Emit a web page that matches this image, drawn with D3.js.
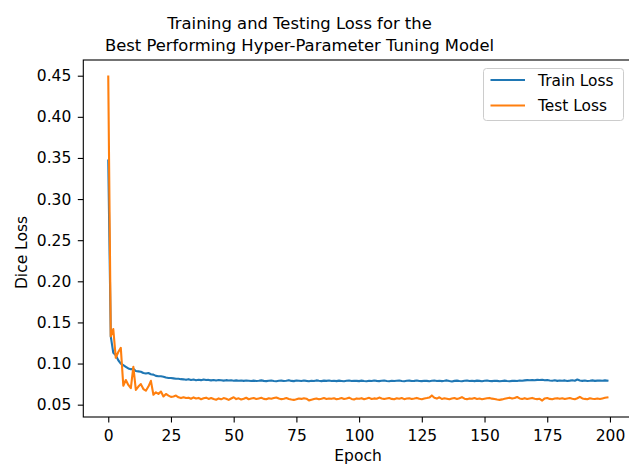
<!DOCTYPE html>
<html>
<head>
<meta charset="utf-8">
<script src="https://cdn.jsdelivr.net/npm/d3@7"></script>
<style>
    body { margin: 0; background: #fff; }
    svg { display: block; font-family: "DejaVu Sans", sans-serif; }
</style>
</head>
<body>
<div id="chart"></div>
<script>
const width = 629;
const height = 466;

// Loss values per epoch (0..199)
const trainLoss = [
    0.3470, 0.1330, 0.1130, 0.1100, 0.1040, 0.1000, 0.0980, 0.0960, 0.0940, 0.0930,
    0.0935, 0.0910, 0.0905, 0.0900, 0.0885, 0.0880, 0.0885, 0.0870, 0.0865, 0.0850,
    0.0845, 0.0845, 0.0840, 0.0830, 0.0825, 0.0825, 0.0820, 0.0815, 0.0815, 0.0810,
    0.0808, 0.0802, 0.0810, 0.0800, 0.0805, 0.0797, 0.0803, 0.0798, 0.0806, 0.0799,
    0.0801, 0.0795, 0.0800, 0.0794, 0.0799, 0.0796, 0.0792, 0.0798, 0.0793, 0.0796,
    0.0791, 0.0795, 0.0790, 0.0794, 0.0789, 0.0793, 0.0790, 0.0787, 0.0792, 0.0788,
    0.0791, 0.0795, 0.0789, 0.0786, 0.0790, 0.0793, 0.0788, 0.0785, 0.0790, 0.0792,
    0.0787, 0.0791, 0.0798, 0.0789, 0.0786, 0.0793, 0.0790, 0.0787, 0.0794, 0.0789,
    0.0785, 0.0791, 0.0788, 0.0795, 0.0790, 0.0786, 0.0792, 0.0789, 0.0793, 0.0787,
    0.0790, 0.0786, 0.0792, 0.0788, 0.0784, 0.0790, 0.0793, 0.0787, 0.0791, 0.0789,
    0.0786, 0.0792, 0.0788, 0.0785, 0.0791, 0.0787, 0.0793, 0.0789, 0.0786, 0.0790,
    0.0794, 0.0788, 0.0785, 0.0791, 0.0787, 0.0790, 0.0793, 0.0788, 0.0784, 0.0790,
    0.0792, 0.0787, 0.0789, 0.0794, 0.0788, 0.0786, 0.0791, 0.0789, 0.0785, 0.0790,
    0.0793, 0.0788, 0.0791, 0.0786, 0.0790, 0.0795, 0.0787, 0.0782, 0.0789, 0.0792,
    0.0788, 0.0785, 0.0791, 0.0794, 0.0787, 0.0790, 0.0786, 0.0792, 0.0789, 0.0785,
    0.0790, 0.0793, 0.0788, 0.0786, 0.0791, 0.0789, 0.0784, 0.0788, 0.0792, 0.0787,
    0.0785, 0.0789, 0.0791, 0.0787, 0.0793, 0.0790, 0.0795, 0.0798, 0.0796, 0.0800,
    0.0797, 0.0801, 0.0799, 0.0803, 0.0796, 0.0799, 0.0794, 0.0791, 0.0796, 0.0789,
    0.0793, 0.0790, 0.0795, 0.0788, 0.0792, 0.0797, 0.0791, 0.0806, 0.0794, 0.0789,
    0.0793, 0.0788, 0.0791, 0.0795, 0.0789, 0.0792, 0.0794, 0.0790, 0.0795, 0.0792
];

const testLoss = [
    0.4490, 0.1330, 0.1420, 0.1070, 0.1140, 0.1190, 0.0730, 0.0800, 0.0740, 0.0700,
    0.0960, 0.0680, 0.0720, 0.0750, 0.0690, 0.0670, 0.0720, 0.0790, 0.0620, 0.0650,
    0.0630, 0.0660, 0.0600, 0.0630, 0.0610, 0.0595, 0.0600, 0.0610, 0.0590, 0.0580,
    0.0590, 0.0580, 0.0585, 0.0572, 0.0588, 0.0575, 0.0582, 0.0566, 0.0578, 0.0585,
    0.0570, 0.0581, 0.0568, 0.0560, 0.0576, 0.0565, 0.0580, 0.0572, 0.0558, 0.0575,
    0.0590, 0.0568, 0.0577, 0.0562, 0.0571, 0.0584, 0.0566, 0.0574, 0.0580, 0.0569,
    0.0576, 0.0583, 0.0570, 0.0565, 0.0578, 0.0572, 0.0580, 0.0587, 0.0574, 0.0567,
    0.0573, 0.0581, 0.0569, 0.0562, 0.0558, 0.0566, 0.0575, 0.0570, 0.0578, 0.0572,
    0.0552, 0.0560, 0.0568, 0.0575, 0.0566, 0.0572, 0.0580, 0.0569, 0.0575, 0.0571,
    0.0578, 0.0565, 0.0572, 0.0580, 0.0568, 0.0574, 0.0585, 0.0570, 0.0562, 0.0576,
    0.0571, 0.0579, 0.0566, 0.0574, 0.0583, 0.0569, 0.0576, 0.0572, 0.0586, 0.0574,
    0.0568, 0.0575, 0.0581, 0.0570, 0.0565, 0.0577, 0.0572, 0.0580, 0.0567, 0.0574,
    0.0578, 0.0569, 0.0575, 0.0582, 0.0571, 0.0566, 0.0575, 0.0580, 0.0586, 0.0612,
    0.0585, 0.0574, 0.0590, 0.0569, 0.0577, 0.0572, 0.0566, 0.0575, 0.0581, 0.0570,
    0.0578, 0.0592, 0.0573, 0.0567, 0.0576, 0.0571, 0.0580, 0.0569, 0.0574, 0.0565,
    0.0571, 0.0577, 0.0582, 0.0573, 0.0568, 0.0562, 0.0558, 0.0564, 0.0571, 0.0578,
    0.0585, 0.0574, 0.0580, 0.0593, 0.0576, 0.0570, 0.0579, 0.0568, 0.0575, 0.0582,
    0.0573, 0.0567, 0.0571, 0.0550, 0.0576, 0.0581, 0.0570, 0.0565, 0.0574, 0.0579,
    0.0571, 0.0577, 0.0568, 0.0575, 0.0580, 0.0572, 0.0566, 0.0578, 0.0595, 0.0576,
    0.0570, 0.0565, 0.0578, 0.0572, 0.0568, 0.0574, 0.0569, 0.0576, 0.0583, 0.0588
];

const xTicks = [0, 25, 50, 75, 100, 125, 150, 175, 200];
const yTicks = [0.05, 0.10, 0.15, 0.20, 0.25, 0.30, 0.35, 0.40, 0.45];
const titleLines = ["Training and Testing Loss for the", "Best Performing Hyper-Parameter Tuning Model"];
const seriesNames = ["Train Loss", "Test Loss"];
const colors = ["#1f77b4", "#ff7f0e"];

const box = { left: 83.3, right: 632.4, top: 60, bottom: 417 };

const x = d3.scaleLinear().domain([-9.95, 208.95]).range([box.left, box.right]);
const y = d3.scaleLinear().domain([0.0350, 0.4691]).range([box.bottom, box.top]);

const svg = d3.select("#chart").append("svg")
    .attr("width", width)
    .attr("height", height);

svg.append("defs").append("clipPath")
    .attr("id", "plot-clip")
    .append("rect")
    .attr("x", box.left)
    .attr("y", box.top)
    .attr("width", box.right - box.left)
    .attr("height", box.bottom - box.top);

// Lines
const line = d3.line()
    .x((d, i) => x(i))
    .y(d => y(d));

svg.append("g")
    .attr("clip-path", "url(#plot-clip)")
    .selectAll("path")
    .data([trainLoss, testLoss])
    .join("path")
    .attr("d", line)
    .attr("fill", "none")
    .attr("stroke", (d, i) => colors[i])
    .attr("stroke-width", 2.1)
    .attr("stroke-linejoin", "round")
    .attr("stroke-linecap", "square");

// Axes
const xAxis = svg.append("g")
    .attr("transform", `translate(0,${box.bottom})`)
    .call(d3.axisBottom(x).tickValues(xTicks).tickFormat(d3.format("d"))
        .tickSizeOuter(0).tickSize(5.5).tickPadding(7.5));

const yAxis = svg.append("g")
    .attr("transform", `translate(${box.left},0)`)
    .call(d3.axisLeft(y).tickValues(yTicks).tickFormat(d3.format(".2f"))
        .tickSizeOuter(0).tickSize(5.5).tickPadding(6.5));

[xAxis, yAxis].forEach(g => {
    g.select(".domain").remove();
    g.selectAll(".tick line").attr("stroke", "#000").attr("stroke-width", 1.1);
    g.selectAll(".tick text")
        .attr("fill", "#000")
        .style("font-size", "15.5px")
        .style("font-family", "'DejaVu Sans', sans-serif");
});

// Frame
svg.append("rect")
    .attr("x", box.left)
    .attr("y", box.top)
    .attr("width", box.right - box.left)
    .attr("height", box.bottom - box.top)
    .attr("fill", "none")
    .attr("stroke", "#000")
    .attr("stroke-width", 1.1);

// Title and axis labels
svg.append("g")
    .selectAll("text")
    .data(titleLines)
    .join("text")
    .attr("x", 299.5)
    .attr("y", (d, i) => 28.5 + i * 22.5)
    .attr("text-anchor", "middle")
    .style("font-size", "16.4px")
    .text(d => d);

svg.append("text")
    .attr("x", 358)
    .attr("y", 461)
    .attr("text-anchor", "middle")
    .style("font-size", "15.5px")
    .text("Epoch");

svg.append("text")
    .attr("transform", "translate(26.5,252.5) rotate(-90)")
    .attr("text-anchor", "middle")
    .style("font-size", "15.5px")
    .text("Dice Loss");

// Legend
const legend = svg.append("g");

legend.append("rect")
    .attr("x", 483.5)
    .attr("y", 68.5)
    .attr("width", 140)
    .attr("height", 52)
    .attr("rx", 3)
    .attr("fill", "#fff")
    .attr("fill-opacity", 0.8)
    .attr("stroke", "#cccccc")
    .attr("stroke-width", 1);

const item = legend.selectAll("g.item")
    .data(seriesNames)
    .join("g")
    .attr("class", "item")
    .attr("transform", (d, i) => `translate(0,${80 + i * 25.5})`);

item.append("line")
    .attr("x1", 490.5)
    .attr("x2", 525)
    .attr("stroke", (d, i) => colors[i])
    .attr("stroke-width", 2.1);

item.append("text")
    .attr("x", 538)
    .attr("dy", "0.36em")
    .style("font-size", "15.4px")
    .text(d => d);
</script>
</body>
</html>
